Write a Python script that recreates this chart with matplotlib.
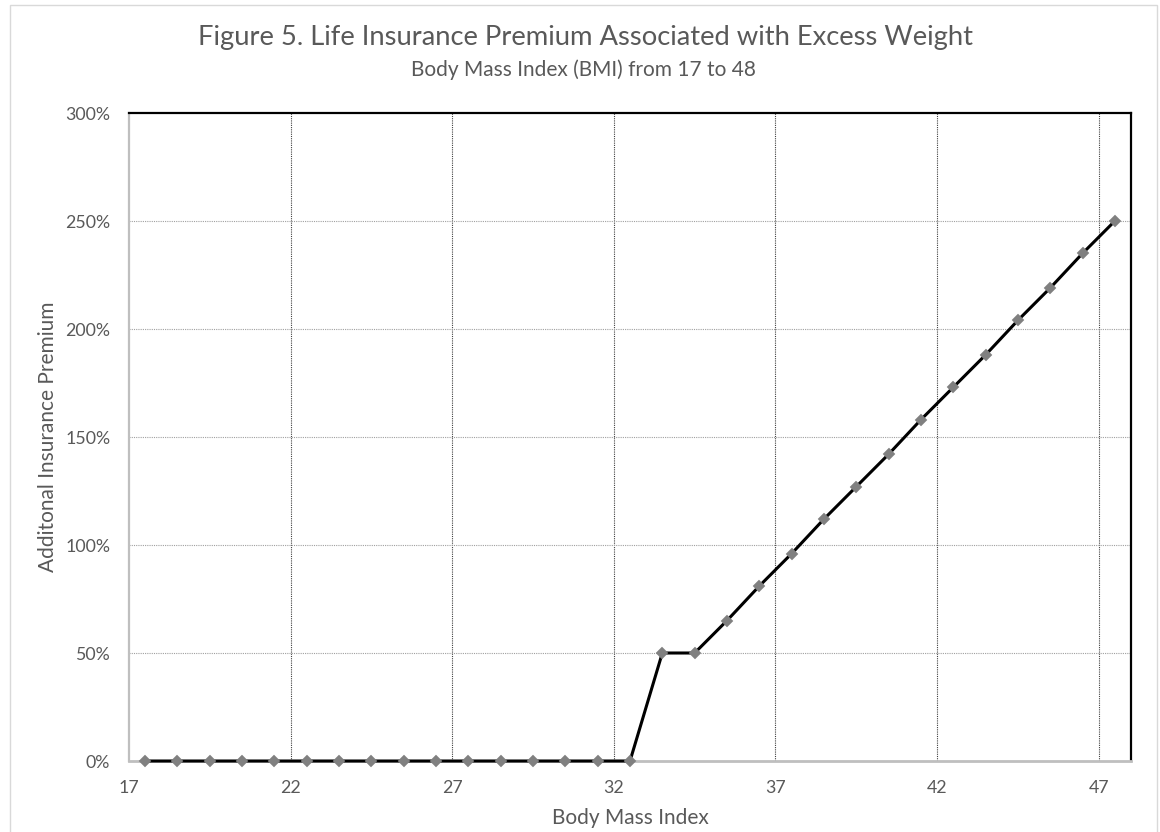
import matplotlib
matplotlib.use("Agg")
import matplotlib.pyplot as plt
from matplotlib.patches import Rectangle
from matplotlib.ticker import FuncFormatter

# Body mass index (midpoints of each BMI unit) and the extra premium charged
bmi = [17.5, 18.5, 19.5, 20.5, 21.5, 22.5, 23.5, 24.5, 25.5, 26.5, 27.5,
       28.5, 29.5, 30.5, 31.5, 32.5, 33.5, 34.5, 35.5, 36.5, 37.5, 38.5,
       39.5, 40.5, 41.5, 42.5, 43.5, 44.5, 45.5, 46.5, 47.5]
premium = [0.00, 0.00, 0.00, 0.00, 0.00, 0.00, 0.00, 0.00, 0.00, 0.00, 0.00,
           0.00, 0.00, 0.00, 0.00, 0.00, 0.50, 0.50, 0.65, 0.81, 0.96, 1.12,
           1.27, 1.42, 1.58, 1.73, 1.88, 2.04, 2.19, 2.35, 2.50]

x_ticks = [17, 22, 27, 32, 37, 42, 47]
y_ticks = [0.0, 0.5, 1.0, 1.5, 2.0, 2.5, 3.0]

title = "Figure 5. Life Insurance Premium Associated with Excess Weight"
subtitle = "Body Mass Index (BMI) from 17 to 48"
x_label = "Body Mass Index"
y_label = "Additonal Insurance Premium"

TEXT = "#595959"
plt.rcParams["font.family"] = ["Lato", "DejaVu Sans"]

W, H = 1160, 832
fig = plt.figure(figsize=(W / 100, H / 100), dpi=100)
fig.patch.set_facecolor("white")

# thin outer chart frame
frame = Rectangle((10 / W, -0.05), (1157 - 10) / W, 1 - 5 / H + 0.05,
                  transform=fig.transFigure, fill=False,
                  edgecolor="#D9D9D9", linewidth=1.0, clip_on=False)
fig.add_artist(frame)

ax = fig.add_axes([129 / W, 1 - 761 / H, (1131 - 129) / W, (761 - 113) / H])
ax.set_xlim(17, 48)
ax.set_ylim(0, 3)
ax.set_xticks(x_ticks)
ax.set_yticks(y_ticks)
ax.yaxis.set_major_formatter(FuncFormatter(lambda v, _: f"{v * 100:.0f}%"))

ax.tick_params(axis="both", length=0, labelsize=12.8, colors=TEXT)
ax.tick_params(axis="y", pad=13.5)
ax.tick_params(axis="x", pad=14)

# gridlines: dark dotted verticals, light dotted horizontals
for xv in x_ticks[1:]:
    ax.axvline(xv, color="#404040", linestyle=(0, (1, 1)), linewidth=0.8, zorder=1)
for yv in y_ticks[1:-1]:
    ax.axhline(yv, color="#A0A0A0", linestyle=(0, (1, 1)), linewidth=0.8, zorder=1)

ax.spines["left"].set_color("#BFBFBF")
ax.spines["bottom"].set_color("#BFBFBF")
ax.spines["left"].set_linewidth(1.6)
ax.spines["bottom"].set_linewidth(2.0)
ax.spines["top"].set_color("black")
ax.spines["right"].set_color("black")
ax.spines["top"].set_linewidth(1.6)
ax.spines["right"].set_linewidth(1.6)

ax.plot(bmi, premium, color="black", linewidth=2.2, zorder=3,
        marker="D", markersize=6.2, markerfacecolor="#808080",
        markeredgecolor="#808080", markeredgewidth=0.3, clip_on=False)

ax.set_xlabel(x_label, fontsize=15, color=TEXT)
ax.xaxis.set_label_coords(0.5, -0.088)
ax.xaxis.label.set_va("center")
ax.set_ylabel(y_label, fontsize=15, color=TEXT)
ax.yaxis.set_label_coords(-0.081, 0.5)
ax.yaxis.label.set_va("center")

fig.text(585 / W, 1 - 38 / H, title, fontsize=19.7, color=TEXT,
         ha="center", va="center")
fig.text(583 / W, 1 - 70 / H, subtitle, fontsize=15, color=TEXT,
         ha="center", va="center")

fig.savefig("out.png", dpi=100, facecolor="white")
